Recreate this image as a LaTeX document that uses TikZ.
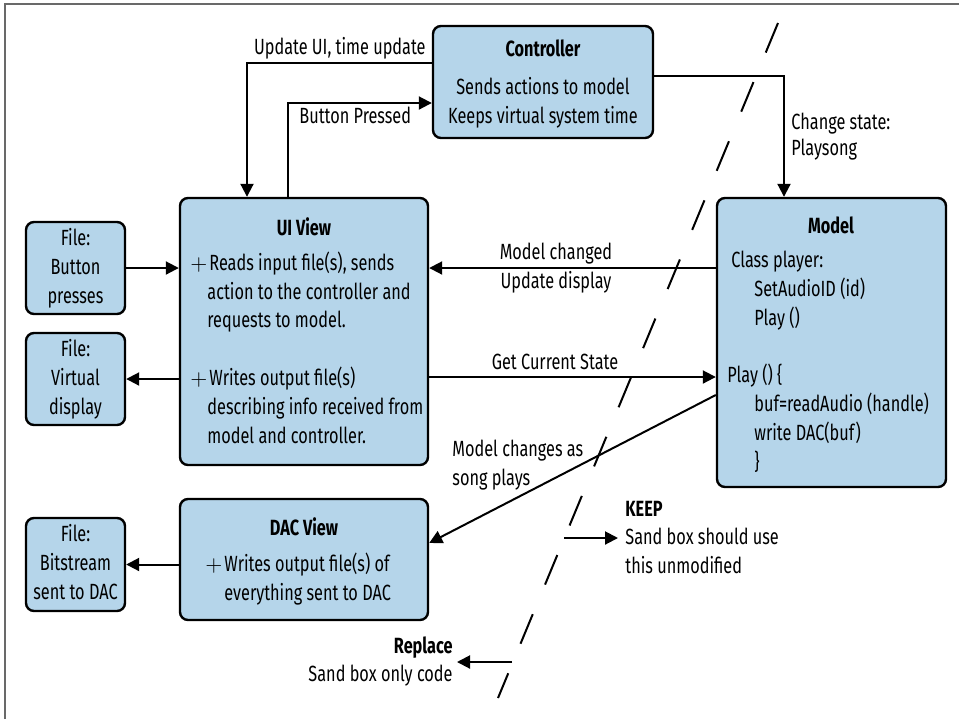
\documentclass[tikz,border=0pt]{standalone}
\usepackage{fontspec}
\setmainfont{Fira Sans}[FakeStretch=0.74]
\usetikzlibrary{arrows.meta,fit}
\definecolor{boxblue}{RGB}{181,213,234}
\definecolor{framegray}{RGB}{105,105,105}
\tikzset{
    classbox/.style={draw,line width=1.2pt,fill=boxblue,rounded corners=4pt,inner sep=0pt},
    flow/.style={line width=1pt,-{Triangle[length=6.5pt,width=6.5pt]}},
    txt/.style={inner sep=0pt,anchor=base,font=\fontsize{11}{14.4}\selectfont},
    ttl/.style={txt,font=\fontsize{11}{14.4}\selectfont\bfseries},
}
\newcommand\ClassBox[5]{%
    \node[classbox,fit={(#2,#3) (#4,#5)}] (#1) {};
}
\newcommand\PlusItem{\makebox[9.5pt][l]{$+$}}
\newcommand\PlusIndent{\hspace*{8.5pt}}

\begin{document}
\begin{tikzpicture}[x=0.5pt,y=-0.5pt]
    \useasboundingbox (0,0) rectangle (959,719);
    \draw[framegray,line width=1pt] (5,719) -- (5,4) -- (959,4);
    % boxes
    \ClassBox{ctrl}{433}{26}{653}{138}
    \ClassBox{ui}{180}{198}{428}{465}
    \ClassBox{model}{717}{198}{946}{487}
    \ClassBox{dac}{180}{499}{428}{620}
    \ClassBox{btnfile}{26}{222}{125}{314}
    \ClassBox{dispfile}{26}{333}{125}{425}
    \ClassBox{bitfile}{26}{518}{125}{611}
    % box texts (multi-line nodes sit on their last line)
    \node[ttl] (ctrltitle) at (543,56) {Controller};
    \node[txt,align=center] (ctrltext) at (543,123) {Sends actions to model\\Keeps virtual system time};
    \node[ttl] (uititle) at (304,235) {UI View};
    \node[txt,anchor=base west,align=left] (uitext) at (190,443)
        {\PlusItem Reads input file(s), sends\\\PlusIndent action to the controller and\\\PlusIndent requests to model.\\[14.4pt]
         \PlusItem Writes output file(s)\\\PlusIndent describing info received from\\\PlusIndent model and controller.};
    \node[ttl] (modeltitle) at (831,233) {Model};
    \node[txt,anchor=base west,align=left] (modeltext) at (727,469)
        {\hspace{2pt}Class player:\\\hspace{13.5pt}SetAudioID (id)\\\hspace{13.5pt}Play ()\\[14.4pt]
         Play () \{\\\hspace{13.5pt}buf=readAudio (handle)\\\hspace{13.5pt}write DAC(buf)\\\hspace{13.5pt}\}};
    \node[ttl] (dactitle) at (304,535) {DAC View};
    \node[txt,anchor=base west,align=left] (dactext) at (205,600)
        {\PlusItem Writes output file(s) of\\\hspace*{9.5pt}everything sent to DAC};
    \node[txt,align=center] (btntext) at (btnfile.center |- 0,303) {File:\\Button\\presses};
    \node[txt,align=center] (disptext) at (dispfile.center |- 0,414) {File:\\Virtual\\display};
    \node[txt,align=center] (bittext) at (bitfile.center |- 0,599) {File:\\Bitstream\\sent to DAC};
    % connectors
    \draw[flow] (ctrl.west |- 0,63) -| (ui.north -| 247,0);
    \draw[flow] (ui.north -| 288,0) |- (ctrl.west |- 0,103);
    \draw[flow] (ctrl.east |- 0,76) -| (model.north -| 784,0);
    \draw[flow] (btnfile.east) -- (ui.west |- btnfile.east);
    \draw[flow] (ui.west |- dispfile.east) -- (dispfile.east);
    \draw[flow] (model.west |- 0,268) -- (ui.east |- 0,268);
    \draw[flow] (ui.east |- 0,377) -- (model.west |- 0,377);
    \draw[flow] (model.west |- 0,395) -- (dac.east |- 0,543);
    \draw[flow] (dac.west |- bitfile.east) -- (bitfile.east);
    % connector labels
    \node[txt,anchor=base east] (updlbl) at (426,54) {Update UI, time update};
    \node[txt,anchor=base west] (btnlbl) at (299,123) {Button Pressed};
    \node[txt,anchor=base west,align=left] (statelbl) at (791,155) {Change state:\\[-1.5pt]Playsong};
    \node[txt,align=center] (chglbl) at (556,288) {Model changed\\Update display};
    \node[txt] (getlbl) at (555,369) {Get Current State};
    \node[txt,anchor=base west,align=left] (playlbl) at (452,485) {Model changes as\\song plays};
    % sandbox split
    \draw[line width=1pt,dash pattern=on 16pt off 16pt] (778,23) -- (498,698);
    \node[ttl,anchor=base west] (keep) at (625,516) {KEEP};
    \node[txt,anchor=base west,align=left] (keeptext) at (625,573) {Sand box should use\\this unmodified};
    \coordinate (keepstart) at (564,538);
    \draw[flow] (keepstart) -- +(54,0);
    \node[ttl,anchor=base east] (repl) at (453,653) {Replace};
    \node[txt,anchor=base east] (repltext) at (453,681) {Sand box only code};
    \coordinate (replstart) at (512,662);
    \draw[flow] (replstart) -- +(-55,0);
\end{tikzpicture}
\end{document}
